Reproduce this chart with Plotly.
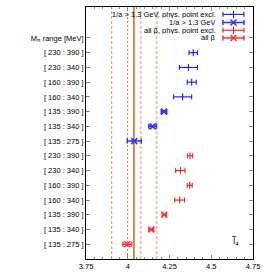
import plotly.graph_objects as go

# ---- data ----
row_labels = ["[ 135 : 275 ]", "[ 135 : 340 ]", "[ 135 : 390 ]", "[ 160 : 340 ]",
              "[ 160 : 390 ]", "[ 230 : 340 ]", "[ 230 : 390 ]",
              "[ 135 : 275 ]", "[ 135 : 340 ]", "[ 135 : 390 ]", "[ 160 : 340 ]",
              "[ 160 : 390 ]", "[ 230 : 340 ]", "[ 230 : 390 ]",
              "M<sub>π</sub> range [MeV]"]
row_pos = list(range(1, 16))

# blue, 1/a > 1.3 GeV, phys. point excl. (rows 11-14)
blue_excl_y = [11, 12, 13, 14]
blue_excl_x = [4.329, 4.383, 4.363, 4.392]
blue_excl_e = [0.054, 0.027, 0.054, 0.025]
# blue, 1/a > 1.3 GeV (rows 8-10)
blue_all_y = [8, 9, 10]
blue_all_x = [4.039, 4.149, 4.217]
blue_all_e = [0.042, 0.023, 0.016]
# red, all beta, phys. point excl. (rows 4-7)
red_excl_y = [4, 5, 6, 7]
red_excl_x = [4.311, 4.371, 4.315, 4.373]
red_excl_e = [0.030, 0.015, 0.028, 0.016]
# red, all beta (rows 1-3)
red_all_y = [1, 2, 3]
red_all_x = [3.997, 4.141, 4.219]
red_all_e = [0.026, 0.014, 0.012]

# reference band lines
band_x = [3.904, 3.999, 4.037, 4.077, 4.173]
band_color = ["#dc8d62", "#d07444", "#d2601e", "#f4c3a6", "#f4c3a6"]
band_dash = ["3px,2px", "2px,2px", "solid", "3px,2px", "3px,2px"]
band_width = [1, 1, 1.5, 2, 2]

legend_names = ["1/a > 1.3 GeV, phys. point excl.", "1/a > 1.3 GeV",
                "all β, phys. point excl.", "all β"]
legend_y = [16.6, 16.05, 15.52, 15.0]
legend_key_x = 4.633
legend_key_e = 0.063
legend_text_x = 4.535

FONT = "Liberation Sans, Arial, sans-serif"
BLUE = "#0000ff"
BLUE2 = "#3030ff"
RED = "#ff0000"
RED2 = "#ff3030"

fig = go.Figure()

for xv, c, d, w in zip(band_x, band_color, band_dash, band_width):
    fig.add_vline(x=xv, line=dict(color=c, dash=d, width=w), layer="below")

def add_series(xs, ys, es, color, symbol, lw, msize):
    fig.add_trace(go.Scatter(
        x=xs, y=ys, mode="markers",
        marker=dict(symbol=symbol, size=msize, color=color,
                    line=dict(color=color, width=lw)),
        error_x=dict(type="data", array=es, visible=True, color=color,
                     thickness=lw, width=2.5),
        showlegend=False, hoverinfo="skip"))

specs = [
    (BLUE, "line-ns-open", 1, 5),
    (BLUE2, "x-thin-open", 1.5, 6),
    (RED, "line-ns-open", 1, 5),
    (RED2, "x-thin-open", 1.5, 6),
]
data = [(blue_excl_x, blue_excl_y, blue_excl_e),
        (blue_all_x, blue_all_y, blue_all_e),
        (red_excl_x, red_excl_y, red_excl_e),
        (red_all_x, red_all_y, red_all_e)]

for (xs, ys, es), (c, s, lw, ms) in zip(data, specs):
    add_series(xs, ys, es, c, s, lw, ms)

# legend keys
for name, ly, (c, s, lw, ms) in zip(legend_names, legend_y, specs):
    add_series([legend_key_x], [ly], [legend_key_e], c, s, lw, ms)
    fig.add_annotation(x=legend_text_x, y=ly, text=name, showarrow=False,
                       xanchor="right", yanchor="middle", height=7,
                       borderpad=0, valign="middle",
                       font=dict(family=FONT, size=7.5, color="black"))

fig.add_annotation(x=4.64, y=1.2, text="l\u0305<sub>4</sub>", showarrow=False,
                   xanchor="center", yanchor="middle",
                   font=dict(family="DejaVu Sans", size=8, color="black"))

fig.update_layout(
    width=274, height=274,
    margin=dict(l=86, r=21, t=7, b=15, autoexpand=False),
    paper_bgcolor="white", plot_bgcolor="white",
    font=dict(family=FONT, size=7.5, color="black"),
    showlegend=False,
)
fig.update_xaxes(range=[3.75, 4.75], tickvals=[3.75, 4, 4.25, 4.5, 4.75],
                 ticktext=["3.75", "4", "4.25", "4.5", "4.75"],
                 ticks="inside", ticklen=4, tickcolor="#888",
                 minor=dict(dtick=0.05, ticks="inside", ticklen=2, tickcolor="#888"),
                 showline=True, linecolor="black", linewidth=1, mirror="allticks",
                 showgrid=False, zeroline=False, tickfont=dict(size=7.5),
                 automargin=False)
fig.update_yaxes(range=[0, 17.1], tickvals=row_pos, ticktext=row_labels,
                 ticks="inside", ticklen=4, tickcolor="#888",
                 showline=True, linecolor="black", linewidth=1, mirror="allticks",
                 showgrid=False, zeroline=False, tickfont=dict(size=7.5),
                 automargin=False)

fig.write_html("out.html",
               config={"displayModeBar": False, "staticPlot": True},
               post_script="document.body.style.margin='0';document.body.style.padding='0';")
